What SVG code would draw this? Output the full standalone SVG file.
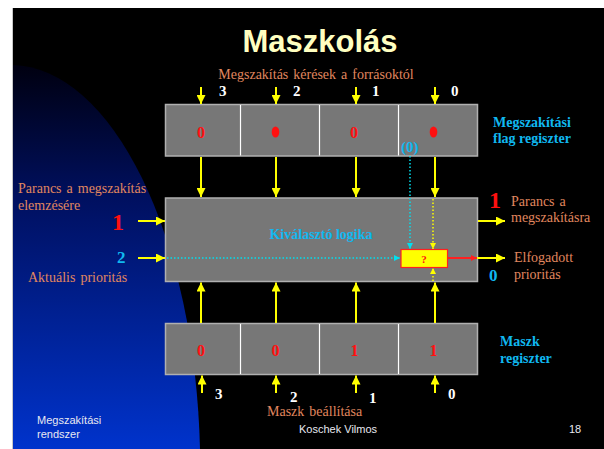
<svg xmlns="http://www.w3.org/2000/svg" width="604" height="449" viewBox="0 0 604 449">
  <defs>
    <linearGradient id="blueFade" x1="0" y1="0" x2="0" y2="1" gradientUnits="objectBoundingBox">
      <stop offset="0" stop-color="#000010"/>
      <stop offset="0.35" stop-color="#001060"/>
      <stop offset="1" stop-color="#0033CC"/>
    </linearGradient>
    <marker id="ay" viewBox="0 0 10 10" refX="10" refY="5" markerWidth="9" markerHeight="9" markerUnits="userSpaceOnUse" orient="auto">
      <path d="M0,0 L10,5 L0,10 Z" fill="#FFFF00"/>
    </marker>
    <marker id="ays" viewBox="0 0 10 10" refX="10" refY="5" markerWidth="6" markerHeight="6" markerUnits="userSpaceOnUse" orient="auto">
      <path d="M0,0 L10,5 L0,10 Z" fill="#FFFF00"/>
    </marker>
    <marker id="ac" viewBox="0 0 10 10" refX="10" refY="5" markerWidth="6" markerHeight="6" markerUnits="userSpaceOnUse" orient="auto">
      <path d="M0,0 L10,5 L0,10 Z" fill="#00E0F0"/>
    </marker>
    <marker id="ar" viewBox="0 0 10 10" refX="10" refY="5" markerWidth="6" markerHeight="6" markerUnits="userSpaceOnUse" orient="auto">
      <path d="M0,0 L10,5 L0,10 Z" fill="#FF2020"/>
    </marker>
  </defs>
  <style>
    .reg { fill: #777777; stroke: #B0B0B0; stroke-width: 1.5; }
    .div { stroke: #FFFFFF; stroke-width: 1.2; }
    .bit { font-family: "Liberation Serif", serif; font-weight: bold; font-size: 16px; fill: #FF1010; text-anchor: middle; }
    .num { font-family: "Liberation Serif", serif; font-weight: bold; font-size: 15px; fill: #FFFFFF; }
    .sal { font-family: "Liberation Serif", serif; font-size: 14px; fill: #E0875F; word-spacing: 1.5px; }
    .cy { font-family: "Liberation Serif", serif; font-weight: bold; font-size: 14px; fill: #10B8F0; }
    .big { font-family: "Liberation Serif", serif; font-weight: bold; font-size: 24px; fill: #FF1010; }
    .ft { font-family: "Liberation Sans", Arial, sans-serif; font-size: 11px; fill: #E8E8F0; }
    .blue-num { font-family: "Liberation Serif", serif; font-weight: bold; font-size: 17px; fill: #10B8F0; }
    .yl { stroke: #FFFF00; stroke-width: 2; fill: none; marker-end: url(#ay); }
    .yd { stroke: #FFFF00; stroke-width: 1.5; stroke-dasharray: 1.5 2; fill: none; marker-end: url(#ays); }
    .cd { stroke: #00E0F0; stroke-width: 1.5; stroke-dasharray: 1.5 2; fill: none; marker-end: url(#ac); }
  </style>

  <!-- slide background -->
  <rect x="0" y="0" width="604" height="449" fill="#FFFFFF"/>
  <rect x="12" y="8" width="592" height="441" fill="#000000"/>
  <line x1="12.5" y1="8" x2="12.5" y2="449" stroke="#C8C8C8" stroke-width="1"/>
  <path d="M13,65 A190,405 0 0 1 200,449 L13,449 Z" fill="url(#blueFade)"/>

  <!-- title -->
  <text x="320" y="52" font-family="'Liberation Sans', Arial, sans-serif" font-weight="bold" font-size="31" fill="#FFFFC0" text-anchor="middle">Maszkolás</text>

  <!-- flag register -->
  <g id="flag-register">
    <rect class="reg" x="165.5" y="104.5" width="312" height="51.5"/>
    <line class="div" x1="240.5" y1="105" x2="240.5" y2="155.5"/>
    <line class="div" x1="319.5" y1="105" x2="319.5" y2="155.5"/>
    <line class="div" x1="398.5" y1="105" x2="398.5" y2="155.5"/>
    <text class="bit" x="201" y="137.5">0</text>
    <ellipse cx="275.5" cy="132" rx="3.8" ry="5.5" fill="#FF1010"/>
    <text class="bit" x="354" y="137.5">0</text>
    <ellipse cx="433.5" cy="132" rx="3.8" ry="5.5" fill="#FF1010"/>
    <text class="cy" x="401" y="152" style="font-size:15px">(0)</text>
    <text class="cy" x="493" y="127">Megszakítási</text>
    <text class="cy" x="493" y="143">flag  regiszter</text>
  </g>

  <!-- selection logic -->
  <g id="selection-logic">
    <rect class="reg" x="165.5" y="198" width="312" height="83.5"/>
    <text class="cy" x="321" y="239" text-anchor="middle">Kiválasztó  logika</text>
  </g>

  <!-- comparator -->
  <g id="comparator">
    <rect x="401" y="249.5" width="46.5" height="18" fill="#FFFF00" stroke="#FF2020" stroke-width="1.2"/>
    <text x="424" y="263" font-family="'Liberation Serif', serif" font-weight="bold" font-size="11" fill="#FF1010" text-anchor="middle">?</text>
  </g>

  <!-- mask register -->
  <g id="mask-register">
    <rect class="reg" x="165.5" y="323.5" width="312" height="51"/>
    <line class="div" x1="240.5" y1="324" x2="240.5" y2="374"/>
    <line class="div" x1="319.5" y1="324" x2="319.5" y2="374"/>
    <line class="div" x1="398.5" y1="324" x2="398.5" y2="374"/>
    <text class="bit" x="201" y="355.5">0</text>
    <text class="bit" x="275.5" y="355.5">0</text>
    <text class="bit" x="354.5" y="355.5">1</text>
    <text class="bit" x="433.5" y="355.5">1</text>
    <text class="cy" x="500" y="346">Maszk</text>
    <text class="cy" x="500" y="363">regiszter</text>
  </g>

  <!-- connectors -->
  <g id="connectors">
    <!-- interrupt requests into flag register -->
    <line class="yl" x1="201" y1="87" x2="201" y2="104"/>
    <line class="yl" x1="276" y1="87" x2="276" y2="104"/>
    <line class="yl" x1="356" y1="87" x2="356" y2="104"/>
    <line class="yl" x1="435" y1="87" x2="435" y2="104"/>
    <!-- flag register to logic -->
    <line class="yl" x1="201" y1="157" x2="201" y2="197"/>
    <line class="yl" x1="276" y1="157" x2="276" y2="197"/>
    <line class="yl" x1="356" y1="157" x2="356" y2="197"/>
    <line class="yl" x1="435" y1="157" x2="435" y2="197"/>
    <!-- mask register to logic -->
    <line class="yl" x1="201" y1="323" x2="201" y2="282.5"/>
    <line class="yl" x1="276" y1="323" x2="276" y2="282.5"/>
    <line class="yl" x1="356" y1="323" x2="356" y2="282.5"/>
    <line class="yl" x1="435" y1="323" x2="435" y2="282.5"/>
    <!-- mask setting inputs -->
    <line class="yl" x1="202" y1="393" x2="202" y2="375.5"/>
    <line class="yl" x1="276" y1="393" x2="276" y2="375.5"/>
    <line class="yl" x1="356" y1="393" x2="356" y2="375.5"/>
    <line class="yl" x1="435" y1="393" x2="435" y2="375.5"/>
    <!-- left inputs -->
    <line class="yl" x1="138" y1="221" x2="165" y2="221"/>
    <line class="yl" x1="138" y1="258" x2="165" y2="258"/>
    <!-- right outputs -->
    <line class="yl" x1="478" y1="221" x2="505" y2="221"/>
    <line x1="448" y1="258" x2="477" y2="258" stroke="#FF2020" stroke-width="2" marker-end="url(#ar)"/>
    <line class="yl" x1="477" y1="258" x2="505" y2="258"/>
    <!-- dotted paths into comparator -->
    <line class="cd" x1="167" y1="258" x2="400" y2="258"/>
    <line class="cd" x1="410" y1="156" x2="410" y2="249"/>
    <line class="yd" x1="433" y1="199" x2="433" y2="249"/>
    <line class="yd" x1="433" y1="281" x2="433" y2="268"/>
  </g>

  <!-- labels -->
  <g id="labels">
    <text class="sal" x="316" y="79" text-anchor="middle">Megszakítás  kérések  a  forrásoktól</text>
    <text class="num" x="219" y="96">3</text>
    <text class="num" x="293" y="96">2</text>
    <text class="num" x="372" y="96">1</text>
    <text class="num" x="451" y="96">0</text>

    <text class="sal" x="18" y="193">Parancs a megszakítás</text>
    <text class="sal" x="18" y="210">elemzésére</text>
    <text class="big" x="112" y="230">1</text>
    <text class="blue-num" x="117" y="263">2</text>
    <text class="sal" x="28" y="282">Aktuális  prioritás</text>

    <text class="big" x="489" y="208">1</text>
    <text class="sal" x="511" y="206">Parancs a</text>
    <text class="sal" x="511" y="222">megszakításra</text>
    <text class="sal" x="514" y="262">Elfogadott</text>
    <text class="sal" x="514" y="279">prioritás</text>
    <text class="blue-num" x="489" y="281">0</text>

    <text class="num" x="215" y="399">3</text>
    <text class="num" x="290" y="402">2</text>
    <text class="num" x="369" y="403">1</text>
    <text class="num" x="448" y="399">0</text>
    <text class="sal" x="267" y="416">Maszk  beállítása</text>

    <text class="ft" x="37" y="424">Megszakítási</text>
    <text class="ft" x="37" y="438">rendszer</text>
    <text class="ft" x="299" y="433">Koschek Vilmos</text>
    <text class="ft" x="569" y="433">18</text>
  </g>
</svg>
